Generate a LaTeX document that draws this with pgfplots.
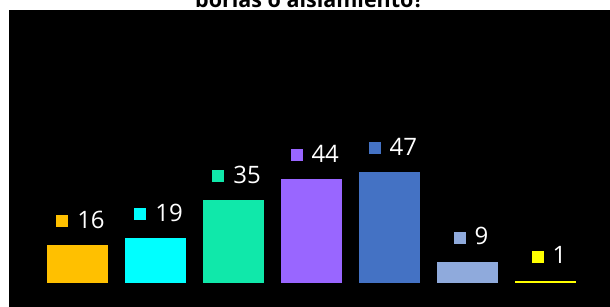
\documentclass[border=0pt]{standalone}
\usepackage{pgfplots}
\pgfplotsset{compat=1.18}
\usepackage{fontspec}
\setmainfont{Open Sans}
\definecolor{c1}{HTML}{FFC000}
\definecolor{c2}{HTML}{00FFFF}
\definecolor{c3}{HTML}{10E8AA}
\definecolor{c4}{HTML}{9966FF}
\definecolor{c5}{HTML}{4472C4}
\definecolor{c6}{HTML}{8FAADC}
\definecolor{c7}{HTML}{FFFF00}
\newcommand{\lab}[1]{\textcolor{#1}{\raisebox{1pt}{\rule{12pt}{12pt}}}\hspace{9pt}\pgfmathprintnumber{\pgfplotspointmeta}}
\begin{document}
\begin{tikzpicture}
\begin{axis}[
  name=ax,
  scale only axis,
  width=601pt, height=297pt,
  xmin=-0.877, xmax=6.820,
  ymin=-10.17, ymax=115.7,
  enlargelimits=false,
  axis background/.style={fill=black},
  axis line style={draw=none},
  ticks=none,
  xticklabels={}, yticklabels={},
  ybar, bar shift=0pt, bar width=61pt,
  clip=false,
  /pgf/number format/assume math mode=true,
  every node near coord/.style={anchor=base, yshift=17pt, xshift=3pt, inner sep=0pt, font=\fontsize{24}{28}\selectfont, text=white},
]
\addplot[draw=none, fill=c1, nodes near coords={\lab{c1}}] coordinates {(0,16)};
\addplot[draw=none, fill=c2, nodes near coords={\lab{c2}}] coordinates {(1,19)};
\addplot[draw=none, fill=c3, nodes near coords={\lab{c3}}] coordinates {(2,35)};
\addplot[draw=none, fill=c4, nodes near coords={\lab{c4}}] coordinates {(3,44)};
\addplot[draw=none, fill=c5, nodes near coords={\lab{c5}}] coordinates {(4,47)};
\addplot[draw=none, fill=c6, nodes near coords={\lab{c6}}] coordinates {(5,9)};
\addplot[draw=none, fill=c7, nodes near coords={\lab{c7}}] coordinates {(6,1)};
\end{axis}
\node[anchor=base, inner sep=0pt, font=\fontsize{21.5}{26}\selectfont\bfseries] at ([yshift=2.5pt]ax.north) {borlas o aislamiento?};
\pgfresetboundingbox
\path[use as bounding box] ([xshift=-9pt]ax.south west) rectangle ([yshift=10pt]ax.north east);
\end{tikzpicture}
\end{document}
